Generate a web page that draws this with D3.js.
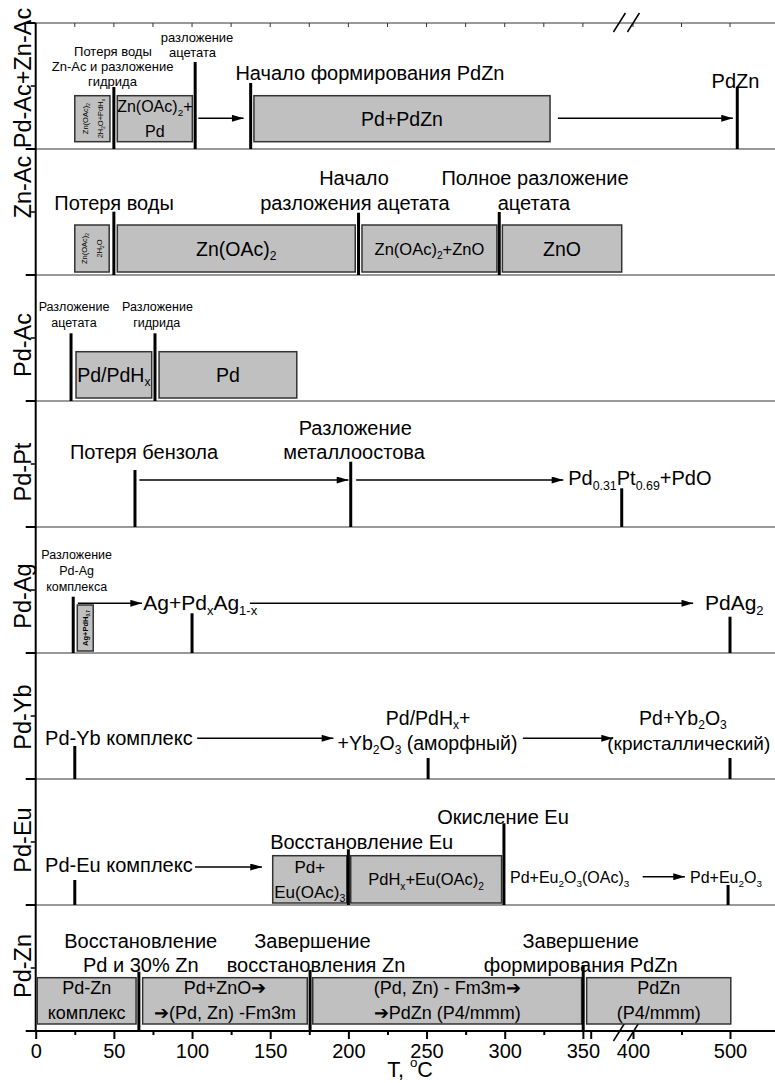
<!DOCTYPE html>
<html>
<head>
<meta charset="utf-8">
<script src="https://cdn.jsdelivr.net/npm/d3@7"></script>
<style>
  body { margin: 0; background: #fff; }
  svg { display: block; font-family: "Liberation Sans", Arial, sans-serif; }
</style>
</head>
<body>
<script>
// ---------- data (temperatures in °C) ----------
var panelNames = ["Pd-Ac+Zn-Ac", "Zn-Ac", "Pd-Ac", "Pd-Pt", "Pd-Ag", "Pd-Yb", "Pd-Eu", "Pd-Zn"];

var tickValues = [0, 50, 100, 150, 200, 250, 300, 350, 355, 400, 500];
var tickLabels = ["0", "50", "100", "150", "200", "250", "300", "350", "", "400", "500"];
var minorTicks = [25, 75, 125, 175, 225, 275, 325, 450];

// transitions (thick vertical lines)
var eventTemps = [
    [50, 102, 137.5, 507.5],
    [50, 206.5, 296.5],
    [22.6, 76.3],
    [63.5, 201.5, 388],
    [24, 100, 500],
    [25, 251, 500],
    [25, 200, 299.5, 498],
    [66, 175.5, 350.2]
];

// phase boxes [from, to]
var barTemps = [
    [[25, 47.5], [52.2, 100.2], [139.6, 329]],
    [[25, 47], [52.2, 204.4], [208.7, 295], [298.5, 388]],
    [[25.8, 74.2], [78.9, 167]],
    [],
    [[26.6, 36.8]],
    [],
    [[151.6, 199], [201.5, 298]],
    [[1, 64.2], [68.4, 173.7], [177.2, 349.2], [352.4, 500.8]]
];
var barLabels = [
    [["Zn(OAc)_2", "2H_2O+PdH_x"], ["Zn(OAc)_2+", "Pd"], ["Pd+PdZn"]],
    [["Zn(OAc)_2", "2H_2O"], ["Zn(OAc)_2"], ["Zn(OAc)_2+ZnO"], ["ZnO"]],
    [["Pd/PdH_x"], ["Pd"]],
    [],
    [["Ag+PdH_{0.7}"]],
    [],
    [["Pd+", "Eu(OAc)_3"], ["PdH_x+Eu(OAc)_2"]],
    [["Pd-Zn", "комплекс"], ["Pd+ZnO➔", "➔(Pd, Zn) -Fm3m"], ["(Pd, Zn) - Fm3m➔", "➔PdZn (P4/mmm)"], ["PdZn", "(P4/mmm)"]]
];

// arrows [from, to]
var arrowTemps = [
    [[104, 133], [334, 503]],
    [],
    [],
    [[66.3, 200], [205, 337.5]],
    [[27, 68], [137, 462]],
    [[103.3, 190.4], [311.6, 378.7]],
    [[101.9, 144.7], [410, 453.5]],
    []
];

// annotations: panel, anchor temperature, text
var notes = [
    [0, 49.4, "Потеря воды"],
    [0, 49.2, "Zn-Ac и разложение"],
    [0, 49.1, "гидрида"],
    [0, 103.2, "разложение"],
    [0, 100.3, "ацетата"],
    [0, 213.8, "Начало формирования PdZn"],
    [0, 505.7, "PdZn"],
    [1, 50.1, "Потеря воды"],
    [1, 203.6, "Начало"],
    [1, 204.2, "разложения ацетата"],
    [1, 319.4, "Полное разложение"],
    [1, 318.7, "ацетата"],
    [2, 24.5, "Разложение"],
    [2, 24.5, "ацетата"],
    [2, 77.9, "Разложение"],
    [2, 77.4, "гидрида"],
    [3, 69.3, "Потеря бензола"],
    [3, 204.4, "Разложение"],
    [3, 203.6, "металлоостова"],
    [3, 340.6, "Pd_{0.31}Pt_{0.69}+PdO"],
    [4, 26.2, "Разложение"],
    [4, 26.2, "Pd-Ag"],
    [4, 26.2, "комплекса"],
    [4, 68.8, "Ag+Pd_xAg_{1-x}"],
    [4, 474.2, "PdAg_2"],
    [5, 6, "Pd-Yb комплекс"],
    [5, 251, "Pd/PdH_x+"],
    [5, 250.6, "+Yb_2O_3 (аморфный)"],
    [5, 451.5, "Pd+Yb_2O_3"],
    [5, 541.5, "(кристаллический)"],
    [6, 6, "Pd-Eu комплекс"],
    [6, 208.5, "Восстановление Eu"],
    [6, 298.9, "Окисление Eu"],
    [6, 303.4, "Pd+Eu_2O_3(OAc)_3"],
    [6, 458.8, "Pd+Eu_2O_3"],
    [7, 67.2, "Восстановление"],
    [7, 67.2, "Pd и 30% Zn"],
    [7, 177, "Завершение"],
    [7, 179.3, "восстановления Zn"],
    [7, 348.6, "Завершение"],
    [7, 348.6, "формирования PdZn"]
];

// ---------- layout (px from the top of each panel, font sizes) ----------
var eventTop = [
    [64, 39, 60, 63.7],
    [62.7, 63.7, 63],
    [58.3, 58.3],
    [69, 60.7, 87.3],
    [69.7, 86.3, 89.7],
    [93, 105, 105],
    [101, 70.3, 44.3, 106],
    [66.7, 65, 60]
];
var barBand = [[72.7, 118.7], [76, 123], [76.7, 123], null, [78, 124], null, [76.7, 124], [72.7, 119]];
var barFont = [[7.5, 16, 19.5], [7.5, 19.5, 16.5, 19.5], [19.5, 19.5], [], [7.5], [], [17, 16.5], [18, 18, 18, 18]];
var arrowY = [[95.3, 95.3], [], [], [79, 79], [76.3, 76.3], [85.3, 85.3], [88, 97.7], []];
var noteLayout = [
    [27.7, 13, "m"], [42.7, 13, "m"], [58, 13, "m"], [14.3, 13, "m"], [29.3, 13, "m"], [49.7, 20, "m"], [57.7, 20, "m"],
    [54, 20, "m"], [29, 20, "m"], [54, 20, "m"], [29, 20, "m"], [54, 20, "m"],
    [31.7, 12.5, "m"], [48, 12.5, "m"], [31.7, 12.5, "m"], [48, 12.5, "m"],
    [50.7, 20, "m"], [27.3, 20, "m"], [50.7, 20, "m"], [77, 20, "s"],
    [28, 12.5, "m"], [44, 12.5, "m"], [59.7, 12.5, "m"], [74.7, 21, "s"], [74.7, 21, "s"],
    [85.3, 20, "s"], [65, 19.5, "m"], [90, 19.5, "m"], [65, 19.5, "m"], [90, 19, "e"],
    [86, 20, "s"], [62.7, 20, "m"], [38.3, 20, "m"], [97.7, 16, "s"], [97.7, 16, "s"],
    [35.7, 20, "m"], [60, 20, "m"], [35.7, 20, "m"], [60, 20, "m"], [35.7, 20, "m"], [60, 20, "m"]
];
var nameCenter = [78, 187, 345, 472, 596, 717, 840, 966];

var width = 775, height = 1083;
var plotLeft = 35.7, plotRight = 775, plotTop = 23, plotBottom = 1031;

// broken x axis: 0..355 then 400..500 on a compressed segment
var x = d3.scaleLinear()
    .domain([0, 355, 400, 500])
    .range([plotLeft, 590.7, 633, 730]);

var y = d3.scaleBand()
    .domain(d3.range(panelNames.length))
    .range([plotTop, plotBottom]);
var ph = y.bandwidth();

var svg = d3.select("body").append("svg")
    .attr("width", width)
    .attr("height", height);

svg.append("defs").append("marker")
    .attr("id", "ah")
    .attr("viewBox", "0 0 10 6")
    .attr("refX", 10).attr("refY", 3)
    .attr("markerWidth", 13).attr("markerHeight", 7)
    .attr("markerUnits", "userSpaceOnUse")
    .attr("orient", "auto")
    .append("path").attr("d", "M0,0L10,3L0,6Z").attr("fill", "#000");

// text with _sub and ^sup
function richText(sel, str, size) {
    var re = /([_^])(\{[^}]*\}|.)/g, last = 0, m, parts = [];
    while ((m = re.exec(str))) {
        if (m.index > last) parts.push({ t: str.slice(last, m.index), s: 0 });
        var c = m[2];
        if (c[0] == "{") c = c.slice(1, -1);
        parts.push({ t: c, s: m[1] == "_" ? 1 : -1 });
        last = re.lastIndex;
    }
    if (last < str.length) parts.push({ t: str.slice(last), s: 0 });
    var cur = 0;
    parts.forEach(function (p) {
        var target = p.s * size * 0.38;
        sel.append("tspan")
            .attr("dy", target - cur)
            .style("font-size", (p.s ? size * 0.62 : size) + "px")
            .text(p.t);
        cur = target;
    });
}

// ---------- frame ----------
var frame = svg.append("g").attr("class", "frame");

frame.selectAll("line.sep")
    .data(d3.range(1, panelNames.length))
    .join("line")
    .attr("class", "sep")
    .attr("x1", plotLeft).attr("x2", plotRight)
    .attr("y1", function (i) { return y(i); })
    .attr("y2", function (i) { return y(i); })
    .attr("stroke", "#777").attr("stroke-width", 1.5);

frame.append("line")
    .attr("x1", plotLeft).attr("x2", plotRight)
    .attr("y1", plotTop).attr("y2", plotTop)
    .attr("stroke", "#333").attr("stroke-width", 1);

// top mirror ticks (inward)
frame.selectAll("line.topTick")
    .data(d3.range(25, 351, 25).concat([400, 450, 500]))
    .join("line")
    .attr("class", "topTick")
    .attr("x1", function (d) { return x(d); })
    .attr("x2", function (d) { return x(d); })
    .attr("y1", plotTop).attr("y2", plotTop + 4)
    .attr("stroke", "#333").attr("stroke-width", 1);

// left axis
frame.append("line")
    .attr("x1", plotLeft).attr("x2", plotLeft)
    .attr("y1", plotTop).attr("y2", plotBottom)
    .attr("stroke", "#000").attr("stroke-width", 2);

frame.selectAll("line.yMajor")
    .data(d3.range(0, panelNames.length + 1))
    .join("line")
    .attr("class", "yMajor")
    .attr("x1", plotLeft - 10).attr("x2", plotLeft)
    .attr("y1", function (i) { return plotTop + i * ph; })
    .attr("y2", function (i) { return plotTop + i * ph; })
    .attr("stroke", "#000").attr("stroke-width", 2);

frame.selectAll("line.yMinor")
    .data(d3.range(0, panelNames.length))
    .join("line")
    .attr("class", "yMinor")
    .attr("x1", plotLeft - 5).attr("x2", plotLeft)
    .attr("y1", function (i) { return y(i) + ph / 2; })
    .attr("y2", function (i) { return y(i) + ph / 2; })
    .attr("stroke", "#000").attr("stroke-width", 1.5);

// panel names
svg.selectAll("text.pname")
    .data(panelNames)
    .join("text")
    .attr("class", "pname")
    .attr("transform", function (d, i) { return "translate(31," + nameCenter[i] + ") rotate(-90)"; })
    .attr("text-anchor", "middle")
    .style("font-size", "23.5px")
    .text(function (d) { return d; });

// bottom axis
frame.append("line")
    .attr("x1", plotLeft).attr("x2", plotRight)
    .attr("y1", plotBottom).attr("y2", plotBottom)
    .attr("stroke", "#000").attr("stroke-width", 2);

var xAxis = svg.append("g")
    .attr("transform", "translate(0," + plotBottom + ")")
    .call(d3.axisBottom(x)
        .tickValues(tickValues)
        .tickFormat(function (d, i) { return tickLabels[i]; })
        .tickSize(8).tickPadding(5));
xAxis.select(".domain").remove();
xAxis.selectAll("line").attr("stroke", "#000").attr("stroke-width", 2);
xAxis.selectAll("text")
    .attr("fill", "#000")
    .style("font-size", "20px")
    .style("font-family", "Liberation Sans, Arial, sans-serif");

var xMinor = svg.append("g")
    .attr("transform", "translate(0," + plotBottom + ")")
    .call(d3.axisBottom(x).tickValues(minorTicks).tickSize(4).tickFormat(""));
xMinor.select(".domain").remove();
xMinor.selectAll("line").attr("stroke", "#000").attr("stroke-width", 2);

var xTitle = svg.append("text")
    .attr("x", 410).attr("y", 1070)
    .attr("text-anchor", "middle")
    .attr("dominant-baseline", "central");
richText(xTitle, "T, ^oC", 21.5);

// axis break marks
var breakX = x(393);
[plotTop, plotBottom + 1].forEach(function (yb) {
    [[-13, -1], [1, 13]].forEach(function (s) {
        svg.append("line")
            .attr("x1", breakX + s[0]).attr("y1", yb + 9)
            .attr("x2", breakX + s[1]).attr("y2", yb - 10)
            .attr("stroke", "#000").attr("stroke-width", 1.5);
    });
});

// ---------- phase boxes ----------
var bars = [];
barTemps.forEach(function (list, p) {
    list.forEach(function (b, j) {
        bars.push({ p: p, t0: b[0], t1: b[1], lines: barLabels[p][j], size: barFont[p][j] });
    });
});

var barG = svg.append("g").attr("class", "bars");
barG.selectAll("rect")
    .data(bars)
    .join("rect")
    .attr("x", function (d) { return x(d.t0); })
    .attr("width", function (d) { return x(d.t1) - x(d.t0); })
    .attr("y", function (d) { return y(d.p) + barBand[d.p][0]; })
    .attr("height", function (d) { return barBand[d.p][1] - barBand[d.p][0]; })
    .attr("fill", "#c0c0c0")
    .attr("stroke", "#333")
    .attr("stroke-width", 1.5);

bars.forEach(function (d) {
    var cx = (x(d.t0) + x(d.t1)) / 2;
    var cy = y(d.p) + (barBand[d.p][0] + barBand[d.p][1]) / 2;
    var n = d.lines.length;
    var narrow = x(d.t1) - x(d.t0) < 40;
    d.lines.forEach(function (line, k) {
        var t;
        if (narrow) {
            t = barG.append("text")
                .attr("transform", "translate(" + (cx + (k - (n - 1) / 2) * 15) + "," + cy + ") rotate(-90)")
                .style("font-weight", n == 1 ? "bold" : "normal");
        } else {
            t = barG.append("text")
                .attr("x", cx)
                .attr("y", cy + (k - (n - 1) / 2) * 25);
        }
        t.attr("text-anchor", "middle").attr("dominant-baseline", "central");
        richText(t, line, d.size);
    });
});

// ---------- transitions ----------
var events = [];
eventTemps.forEach(function (list, p) {
    list.forEach(function (t, j) { events.push({ p: p, t: t, top: eventTop[p][j] }); });
});
svg.append("g").selectAll("line")
    .data(events)
    .join("line")
    .attr("x1", function (d) { return x(d.t); })
    .attr("x2", function (d) { return x(d.t); })
    .attr("y1", function (d) { return y(d.p) + d.top; })
    .attr("y2", function (d) { return y(d.p) + ph; })
    .attr("stroke", "#000")
    .attr("stroke-width", 3);

// ---------- arrows ----------
var arrows = [];
arrowTemps.forEach(function (list, p) {
    list.forEach(function (a, j) { arrows.push({ p: p, t0: a[0], t1: a[1], dy: arrowY[p][j] }); });
});
svg.append("g").selectAll("line")
    .data(arrows)
    .join("line")
    .attr("x1", function (d) { return x(d.t0); })
    .attr("x2", function (d) { return x(d.t1); })
    .attr("y1", function (d) { return y(d.p) + d.dy; })
    .attr("y2", function (d) { return y(d.p) + d.dy; })
    .attr("stroke", "#000")
    .attr("stroke-width", 1.5)
    .attr("marker-end", "url(#ah)");

// ---------- annotations ----------
var anchors = { m: "middle", s: "start", e: "end" };
var noteG = svg.append("g").attr("class", "notes");
notes.forEach(function (n, i) {
    var lay = noteLayout[i];
    var t = noteG.append("text")
        .attr("x", x(n[1]))
        .attr("y", y(n[0]) + lay[0])
        .attr("text-anchor", anchors[lay[2]])
        .attr("dominant-baseline", "central");
    richText(t, n[2], lay[1]);
});
</script>
</body>
</html>
